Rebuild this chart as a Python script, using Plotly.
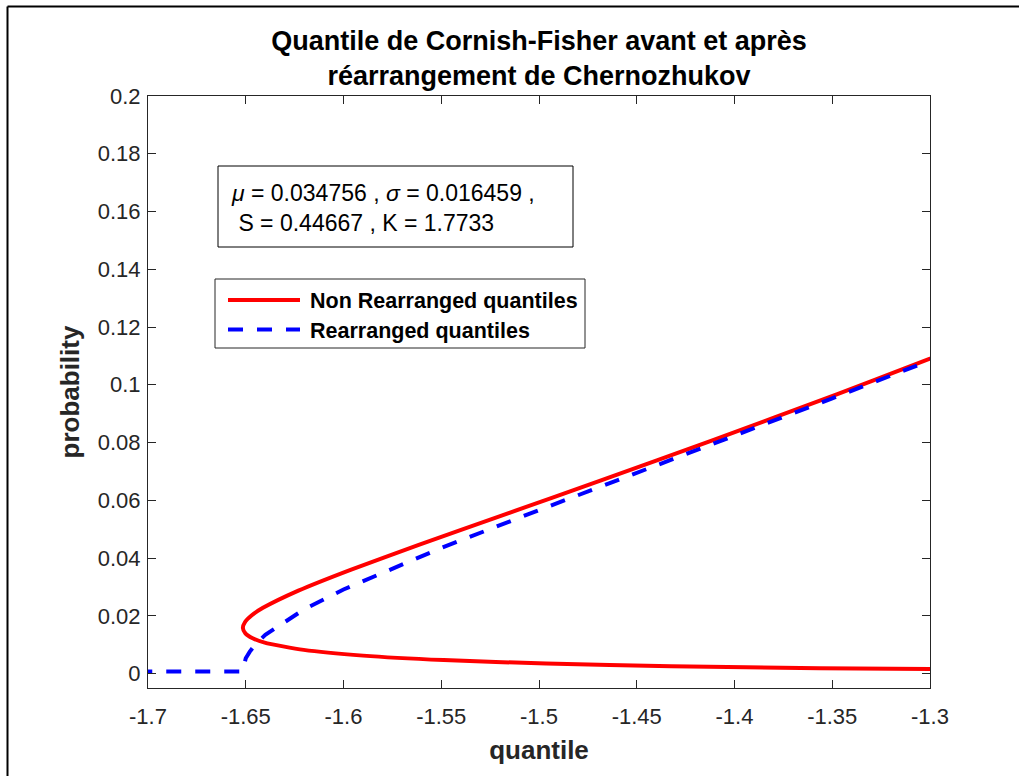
import plotly.graph_objects as go

# Cornish-Fisher quantile (non rearranged)
cf_quantile = [-1.27704, -1.31296, -1.34736, -1.41133, -1.46861, -1.51879, -1.56151,
               -1.59640, -1.62309, -1.64119, -1.64691, -1.65035, -1.65146, -1.65018,
               -1.64647, -1.64032, -1.62036, -1.58998, -1.54876, -1.49636, -1.43240,
               -1.35650, -1.26829]
cf_prob = [0.11507, 0.10565, 0.09680, 0.08076, 0.06681, 0.05480, 0.04457,
           0.03593, 0.02872, 0.02275, 0.02018, 0.01786, 0.01578, 0.01390,
           0.01222, 0.01072, 0.00820, 0.00621, 0.00466, 0.00347, 0.00256,
           0.00187, 0.00135]

# Chernozhukov rearranged quantile
re_quantile = [-1.75, -1.6516, -1.6512, -1.650, -1.648, -1.645, -1.640, -1.620,
               -1.600, -1.550, -1.500, -1.450, -1.400, -1.350, -1.300, -1.280]
re_prob = [0.0007, 0.0007, 0.0020, 0.0053, 0.0075, 0.0102, 0.0134, 0.0223,
           0.0291, 0.0435, 0.0566, 0.0694, 0.0822, 0.0953, 0.1084, 0.1139]

x_ticks = [-1.7, -1.65, -1.6, -1.55, -1.5, -1.45, -1.4, -1.35, -1.3]
y_ticks = [0, 0.02, 0.04, 0.06, 0.08, 0.1, 0.12, 0.14, 0.16, 0.18, 0.2]

series_names = ["Non Rearranged quantiles", "Rearranged quantiles"]
series_colors = ["#ff0000", "#0000ff"]
series_dash = ["solid", "15px,14px"]

FONT = "Liberation Sans, Arial, Helvetica, sans-serif"
AX = "#262626"

# plot area in pixels (left, right, top, bottom)
L, R, T, B = 148, 930, 96, 688


def px(x):
    return (x - L) / (R - L)


def py(y):
    return (B - y) / (B - T)


fig = go.Figure()
fig.add_trace(go.Scatter(
    x=cf_quantile, y=cf_prob, mode="lines", name=series_names[0],
    line=dict(color=series_colors[0], width=4, shape="spline", smoothing=0.6),
))
fig.add_trace(go.Scatter(
    x=re_quantile, y=re_prob, mode="lines", name=series_names[1],
    line=dict(color=series_colors[1], width=4, dash=series_dash[1]),
))

axis_common = dict(
    showgrid=False, zeroline=False, showline=True, linecolor=AX, linewidth=1,
    mirror="ticks", ticks="inside", ticklen=8, tickcolor=AX, tickwidth=1,
    tickfont=dict(family=FONT, size=22, color=AX),
)
fig.update_xaxes(
    range=[-1.7, -1.3], tickvals=x_ticks, ticktext=[str(v) for v in x_ticks],
    ticklabelstandoff=9,
    title=dict(text="<b>quantile</b>", font=dict(family=FONT, size=26, color=AX), standoff=12),
    **axis_common,
)
fig.update_yaxes(
    range=[-0.005, 0.2], tickvals=y_ticks, ticktext=[str(v) for v in y_ticks],
    ticklabelstandoff=2,
    title=dict(text="<b>probability</b>", font=dict(family=FONT, size=26, color=AX), standoff=10),
    **axis_common,
)

fig.update_layout(
    width=1019, height=776,
    margin=dict(l=L, r=1019 - R, t=T, b=776 - B),
    paper_bgcolor="white", plot_bgcolor="white",
    font=dict(family=FONT, color="black"),
    title=dict(
        text="<b>Quantile de Cornish-Fisher avant et après<br>réarrangement de Chernozhukov</b>",
        x=0.5, xref="paper", xanchor="center", y=1 - 50 / 776, yanchor="middle",
        font=dict(family=FONT, size=27, color="black"),
    ),
    showlegend=False,
)

# stats text box
fig.add_shape(type="rect", xref="paper", yref="paper",
              x0=px(218), x1=px(573), y0=py(247), y1=py(166),
              line=dict(color="black", width=1), fillcolor="white", layer="above")
fig.add_annotation(
    xref="paper", yref="paper", x=px(229), y=py(208),
    xanchor="left", yanchor="middle", align="left", showarrow=False,
    text="<i>μ</i> = 0.034756 , <i>σ</i> = 0.016459 ,<br> S = 0.44667 , K = 1.7733",
    font=dict(family=FONT, size=23, color="black"),
)

# legend box, drawn MATLAB-style with long line samples
fig.add_shape(type="rect", xref="paper", yref="paper",
              x0=px(215), x1=px(585), y0=py(348), y1=py(279),
              line=dict(color=AX, width=1), fillcolor="white", layer="above")
for i, (name, color, dash) in enumerate(zip(series_names, series_colors, series_dash)):
    row_y = 300 + 29.5 * i
    fig.add_shape(type="line", xref="paper", yref="paper",
                  x0=px(228), x1=px(300), y0=py(row_y), y1=py(row_y),
                  line=dict(color=color, width=4, dash=dash), layer="above")
    fig.add_annotation(
        xref="paper", yref="paper", x=px(308), y=py(row_y + 1),
        xanchor="left", yanchor="middle", showarrow=False,
        text=f"<b>{name}</b>", font=dict(family=FONT, size=21.5, color="black"),
    )

# figure frame (left and top edges)
fig.add_shape(type="line", xref="paper", yref="paper",
              x0=px(7.5), x1=px(7.5), y0=py(776), y1=py(6.5),
              line=dict(color="black", width=2))
fig.add_shape(type="line", xref="paper", yref="paper",
              x0=px(7.5), x1=px(1019), y0=py(6.5), y1=py(6.5),
              line=dict(color="black", width=2))

fig.write_html("out.html", config={"displayModeBar": False},
               post_script="document.body.style.margin='0';")
